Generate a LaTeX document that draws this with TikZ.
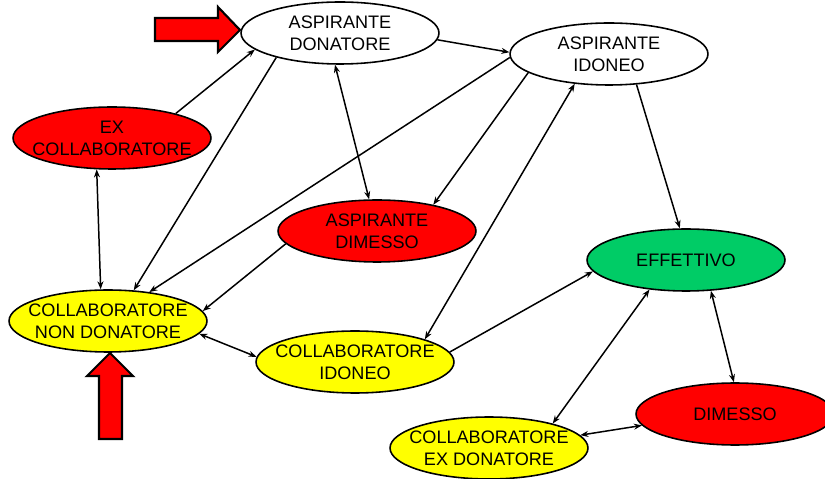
\documentclass[tikz,border=0pt]{standalone}
\usepackage{fontspec}
\setmainfont{Liberation Sans}
\usetikzlibrary{arrows.meta}
\usetikzlibrary{shapes.geometric}
\definecolor{statered}{RGB}{255,0,0}
\definecolor{stateyellow}{RGB}{255,255,0}
\definecolor{stategreen}{RGB}{0,204,102}

\begin{document}
\begin{tikzpicture}[x=0.02cm, y=-0.02cm,
    >={Stealth[length=1.6mm,width=1.2mm]},
    state/.style={ellipse, draw, line width=0.9pt, minimum width=3.96cm,
      minimum height=1.24cm, inner xsep=-0.3cm, inner ysep=0pt, align=center,
      font=\fontsize{10.3}{12.4}\selectfont},
    link/.style={line width=0.85pt},
    bigarrow/.style={draw, line width=1.2pt, fill=statered}]

        % keep the page at the size of the reference
        \useasboundingbox (0,0) rectangle (825,479);

        % states
        \node[state] (asp_don) at (340,33) {ASPIRANTE\\DONATORE};
        \node[state] (asp_ido) at (609,54) {ASPIRANTE\\IDONEO};
        \node[state, fill=statered] (ex_coll) at (112,138) {EX\\COLLABORATORE};
        \node[state, fill=statered] (asp_dim) at (377,231) {ASPIRANTE\\DIMESSO};
        \node[state, fill=stateyellow] (coll_non) at (108,321) {COLLABORATORE\\NON DONATORE};
        \node[state, fill=stateyellow] (coll_ido) at (355,362) {COLLABORATORE\\IDONEO};
        \node[state, fill=stategreen] (effettivo) at (686,260) {EFFETTIVO};
        \node[state, fill=statered] (dimesso) at (735,414) {DIMESSO};
        \node[state, fill=stateyellow] (coll_ex) at (489,448) {COLLABORATORE\\EX DONATORE};

        % one way
        \draw[link, ->] (asp_don.356) -- (asp_ido.179);
        \draw[link, ->] (ex_coll.21) -- (asp_don.191);
        \draw[link, ->] (asp_don.201) -- (coll_non.50);
        \draw[link, ->] (asp_ido.182) -- (coll_non.35);
        \draw[link, ->] (asp_ido.193) -- (asp_dim.25);
        \draw[link, ->] (asp_ido.312) -- (effettivo.101);
        \draw[link, ->] (asp_dim.188) -- (coll_non.6);
        \draw[link, ->] (coll_ido.6) -- (effettivo.187);

        % both ways
        \draw[link, <->] (asp_don.261) -- (asp_dim.104);
        \draw[link, <->] (coll_ido.18) -- (asp_ido.221);
        \draw[link, <->] (ex_coll.244) -- (coll_non.103);
        \draw[link, <->] (coll_non.352) -- (coll_ido.177);
        \draw[link, <->] (effettivo.219) -- (coll_ex.21);
        \draw[link, <->] (effettivo.309) -- (dimesso.92);
        \draw[link, <->] (coll_ex.8) -- (dimesso.187);

        % entry arrows
        \draw[bigarrow] (155,18) -- (218,18) -- (218,7) -- (240,30)
          -- (218,52) -- (218,41) -- (155,41) -- cycle;
        \draw[bigarrow] (99,439) -- (99,376) -- (87,376) -- (110,353)
          -- (133,376) -- (122,376) -- (122,439) -- cycle;

\end{tikzpicture}
\end{document}
